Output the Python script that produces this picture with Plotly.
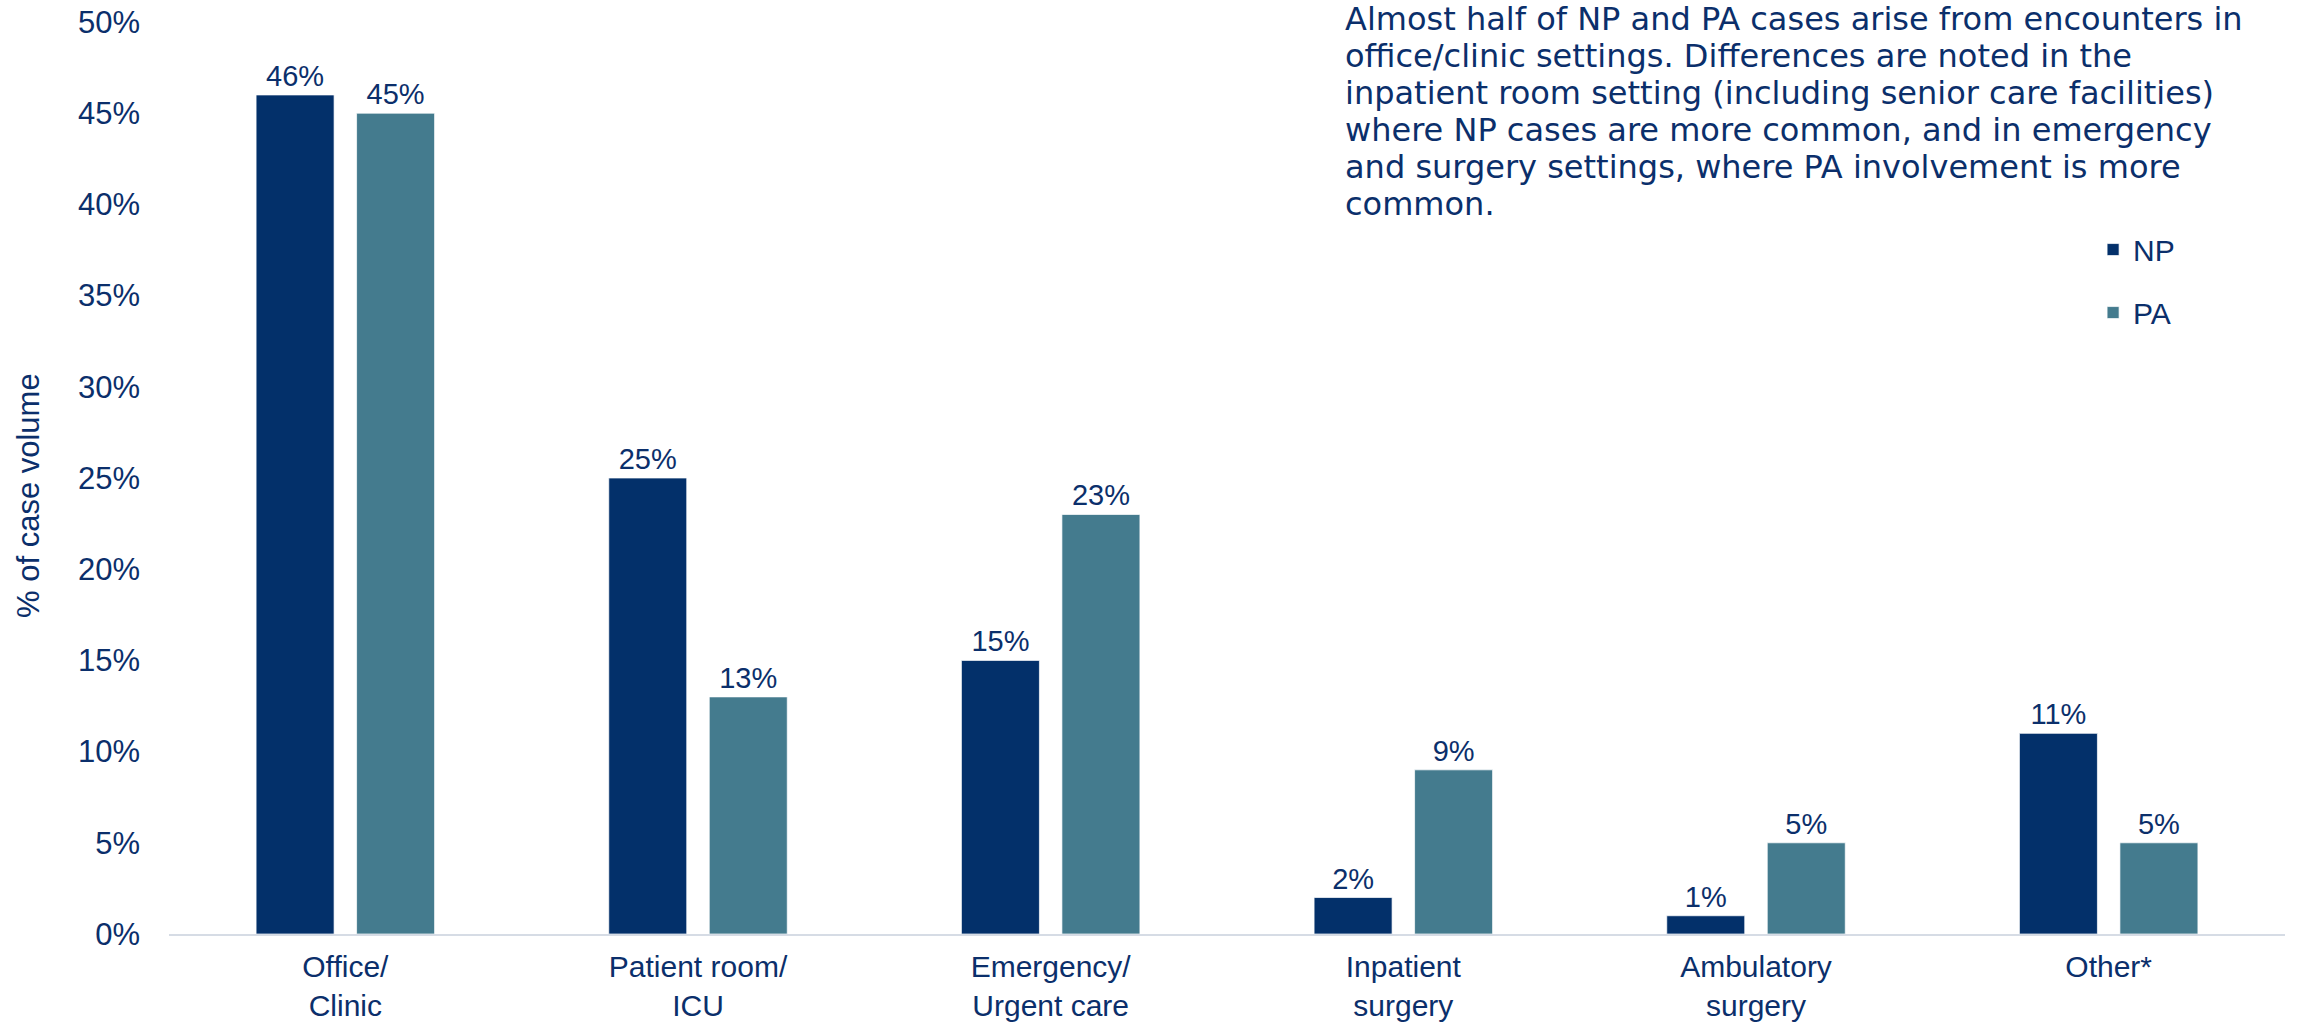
import plotly.graph_objects as go

categories = ["Office/<br>Clinic", "Patient room/<br>ICU", "Emergency/<br>Urgent care",
              "Inpatient<br>surgery", "Ambulatory<br>surgery", "Other*"]
np_values = [46, 25, 15, 2, 1, 11]
pa_values = [45, 13, 23, 9, 5, 5]
y_ticks = [0, 5, 10, 15, 20, 25, 30, 35, 40, 45, 50]
y_tick_labels = [f"{v}%" for v in y_ticks]
note_lines = [
    "Almost half of NP and PA cases arise from encounters in",
    "office/clinic settings. Differences are noted in the",
    "inpatient room setting (including senior care facilities)",
    "where NP cases are more common, and in emergency",
    "and surgery settings, where PA involvement is more",
    "common.",
]

NAVY = "#03306A"
TEAL = "#447B8E"
TEXT = "#0B2F6B"
FONT = "Liberation Sans, Arial, sans-serif"

# plot area in pixels (for placing free text)
PL, PR, PT, PB = 169, 2285, 22, 934


def px_x(x):
    return (x - PL) / (PR - PL)


def px_y(y):
    return (PB - y) / (PB - PT)


fig = go.Figure()
fig.add_trace(go.Bar(
    x=categories, y=np_values, name="NP", legendgroup="np",
    marker=dict(color=NAVY, line=dict(color="rgba(255,255,255,0.7)", width=1)),
    text=[f"{v}%" for v in np_values], textposition="outside",
    textfont=dict(family=FONT, size=29, color=TEXT), cliponaxis=False,
))
fig.add_trace(go.Bar(
    x=categories, y=pa_values, name="PA", legendgroup="pa",
    marker=dict(color=TEAL, line=dict(color="rgba(255,255,255,0.7)", width=1)),
    text=[f"{v}%" for v in pa_values], textposition="outside",
    textfont=dict(family=FONT, size=29, color=TEXT), cliponaxis=False,
))

fig.update_layout(
    width=2300, height=1028,
    margin=dict(l=PL, r=2300 - PR, t=PT, b=1028 - PB, autoexpand=False),
    paper_bgcolor="white", plot_bgcolor="white",
    barmode="group", bargap=0.43, bargroupgap=0.224,
    font=dict(family=FONT, size=30, color=TEXT),
    showlegend=True,
    legend=dict(x=0.9093, y=0.779, xanchor="left", yanchor="top",
                traceorder="grouped", tracegroupgap=21,
                font=dict(family=FONT, size=30, color=TEXT),
                bgcolor="rgba(0,0,0,0)"),
)

fig.update_xaxes(
    showline=True, linecolor="#D6DCE5", linewidth=2,
    showgrid=False, ticks="", ticklabelstandoff=5,
    tickfont=dict(family=FONT, size=30, color=TEXT),
)
fig.update_yaxes(
    range=[0, 50], tickmode="array", tickvals=y_ticks, ticktext=y_tick_labels,
    showgrid=False, showline=False, zeroline=False, ticks="",
    ticklabelstandoff=28,
    tickfont=dict(family=FONT, size=31, color=TEXT),
)

# y-axis title
fig.add_annotation(
    xref="paper", yref="paper", x=px_x(28), y=px_y(496),
    xanchor="center", yanchor="middle", showarrow=False, textangle=-90,
    text="% of case volume",
    font=dict(family=FONT, size=31, color=TEXT),
)

# commentary text, one line each
line_centers = [19, 56, 93, 130, 167, 204]
for line, cy in zip(note_lines, line_centers):
    fig.add_annotation(
        xref="paper", yref="paper", x=px_x(1343), y=px_y(cy),
        xanchor="left", yanchor="middle", align="left", showarrow=False,
        text=line,
        font=dict(family="DejaVu Sans, sans-serif", size=32, color=TEXT),
    )

fig.write_html("out.html")
